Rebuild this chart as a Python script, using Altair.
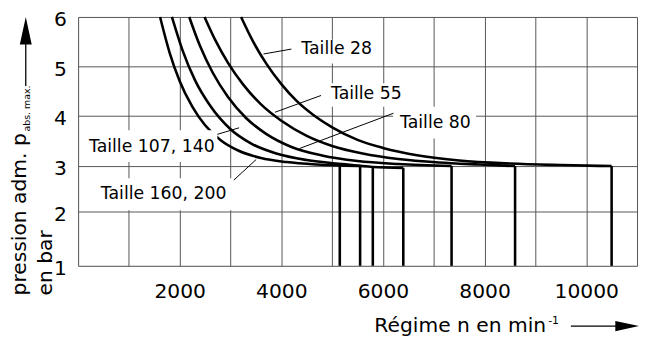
import altair as alt
import pandas as pd

FONT = "DejaVu Sans"

# ---- curves (speed in min-1, pressure in bar) ----
c28_n = [3207, 3450, 3700, 4000, 4300, 4650, 5000, 5500, 6000, 6700, 7500, 8500, 9500, 10500]
c28_p = [6.0, 5.49, 5.06, 4.64, 4.3, 4.0, 3.77, 3.52, 3.36, 3.21, 3.11, 3.05, 3.02, 3.0]

c55_n = [2488, 2700, 2950, 3250, 3600, 4000, 4500, 5000, 5600, 6300, 7100, 7900, 8600]
c55_p = [6.0, 5.53, 5.07, 4.63, 4.23, 3.9, 3.6, 3.4, 3.25, 3.14, 3.07, 3.03, 3.0]

c80_n = [2187, 2400, 2650, 2950, 3300, 3700, 4200, 4800, 5500, 6300, 7350]
c80_p = [6.0, 5.41, 4.87, 4.38, 3.96, 3.64, 3.38, 3.21, 3.1, 3.04, 3.0]

c107_n = [1846, 2050, 2300, 2600, 3000, 3400, 3900, 4500, 5200, 5800, 6400]
c107_p = [6.0, 5.34, 4.72, 4.2, 3.73, 3.45, 3.25, 3.12, 3.04, 2.98, 2.96]

c160_n = [1613, 1800, 2000, 2250, 2500, 2800, 3150, 3600, 4100, 4700, 5550]
c160_p = [6.0, 5.28, 4.7, 4.18, 3.81, 3.52, 3.31, 3.16, 3.08, 3.03, 3.0]

# ---- maximum speeds (vertical lines) ----
end_size = ["200", "160", "140", "107", "80", "55", "28"]
end_n = [5150, 5550, 5800, 6400, 7350, 8600, 10500]
end_p = [3.0, 3.0, 2.97, 2.96, 3.0, 3.0, 3.0]

# ---- annotations ----
label_text = ["Taille 28", "Taille 55", "Taille 80", "Taille 107, 140", "Taille 160, 200"]
label_n = [4393, 4976, 6336, 214, 447]
label_p = [5.34, 4.44, 3.85, 3.38, 2.37]
box_n1 = [4296, 4879, 6200, 117, 350]
box_n2 = [5928, 6492, 7833, 2740, 3090]
box_p1 = [5.54, 4.66, 4.18, 3.71, 2.73]
box_p2 = [5.06, 4.18, 3.55, 3.08, 2.02]
lead_n1 = [3648, 3874, 4360, 2740, 3065]
lead_p1 = [5.25, 4.07, 3.35, 3.63, 2.69]
lead_n2 = [4198, 4781, 6206, 3168, 3504]
lead_p2 = [5.35, 4.41, 4.05, 3.76, 3.13]

x_grid = list(range(0, 11001, 1000))
y_ticks = [1, 2, 3, 4, 5, 6]

rows = []
for name, ns, ps in [("28", c28_n, c28_p), ("55", c55_n, c55_p), ("80", c80_n, c80_p),
                     ("107", c107_n, c107_p), ("160", c160_n, c160_p)]:
    for n, p in zip(ns, ps):
        rows.append({"curve": name, "n": n, "p": p})
curves_df = pd.DataFrame(rows)
ends_df = pd.DataFrame({"size": end_size, "n": end_n, "p": end_p})
lab_df = pd.DataFrame({"text": label_text, "n": label_n, "p": label_p,
                       "bn1": box_n1, "bn2": box_n2, "bp1": box_p1, "bp2": box_p2,
                       "ln1": lead_n1, "lp1": lead_p1, "ln2": lead_n2, "lp2": lead_p2})
one = pd.DataFrame({"a": [0]})

W, H = 566, 252
xs = alt.Scale(domain=[0, 11000], nice=False, zero=False)
ys = alt.Scale(domain=y_ticks, range=[H, 196.7, 151, 100, 50, 0], nice=False, zero=False)

x_axis = alt.Axis(values=x_grid, format="d", title=None, ticks=False, tickSize=0, domain=False,
                  labelExpr="(datum.value % 2000 == 0 && datum.value > 0 && datum.value < 11000) ? datum.label : ''",
                  labelFont=FONT, labelFontSize=20.5, labelColor="black", labelPadding=16,
                  grid=True, gridColor="#555", gridWidth=1)
y_axis = alt.Axis(values=y_ticks, format="d", title=None, ticks=False, tickSize=0, domain=False,
                  labelFont=FONT, labelFontSize=20.5, labelColor="black", labelPadding=12,
                  labelOffset=3, grid=True, gridColor="#555", gridWidth=1)

base = alt.Chart(curves_df).mark_line(color="black", strokeWidth=2.6, interpolate="monotone").encode(
    x=alt.X("n:Q", scale=xs, axis=x_axis),
    y=alt.Y("p:Q", scale=ys, axis=y_axis),
    detail="curve:N",
)

verts = alt.Chart(ends_df).mark_rule(color="black", strokeWidth=2.6).encode(
    x=alt.X("n:Q", scale=xs), y=alt.Y("p:Q", scale=ys), y2=alt.datum(1))

boxes = alt.Chart(lab_df).mark_rect(fill="white").encode(
    x=alt.X("bn1:Q", scale=xs), x2="bn2:Q", y=alt.Y("bp1:Q", scale=ys), y2="bp2:Q")

texts = alt.Chart(lab_df).mark_text(align="left", baseline="middle", font=FONT, fontSize=17.5,
                                    color="black").encode(
    x=alt.X("n:Q", scale=xs), y=alt.Y("p:Q", scale=ys), text="text:N")

leaders = alt.Chart(lab_df).mark_rule(color="black", strokeWidth=1).encode(
    x=alt.X("ln1:Q", scale=xs), x2="ln2:Q", y=alt.Y("lp1:Q", scale=ys), y2="lp2:Q")

# axis titles with sub/superscripts and arrows
yt1 = alt.Chart(one).mark_text(angle=270, align="left", baseline="alphabetic", font=FONT,
                               fontSize=20.5, color="black").encode(
    x=alt.value(-53), y=alt.value(282), text=alt.value("pression adm. p"))
yt2 = alt.Chart(one).mark_text(angle=270, align="left", baseline="alphabetic", font=FONT,
                               fontSize=9.5, color="black").encode(
    x=alt.value(-49), y=alt.value(116), text=alt.value("abs. max."))
yt3 = alt.Chart(one).mark_text(angle=270, align="left", baseline="alphabetic", font=FONT,
                               fontSize=20.5, color="black").encode(
    x=alt.value(-26), y=alt.value(282), text=alt.value("en bar"))
yline = alt.Chart(one).mark_rule(color="black", strokeWidth=1.3).encode(
    x=alt.value(-53), y=alt.value(70), y2=alt.value(26))
yhead = alt.Chart(one).mark_point(shape="M-0.43,1 L0.43,1 L0,-1 Z", filled=True, color="black",
                                  opacity=1, size=784, strokeWidth=0).encode(
    x=alt.value(-53), y=alt.value(14))

xt1 = alt.Chart(one).mark_text(align="left", baseline="alphabetic", font=FONT, fontSize=20.5,
                               color="black").encode(
    x=alt.value(300), y=alt.value(319), text=alt.value("Régime n en min"))
xt2 = alt.Chart(one).mark_text(align="left", baseline="alphabetic", font=FONT, fontSize=11,
                               color="black").encode(
    x=alt.value(476), y=alt.value(311), text=alt.value("-1"))
xline = alt.Chart(one).mark_rule(color="black", strokeWidth=1.3).encode(
    x=alt.value(499), x2=alt.value(546), y=alt.value(313))
xhead = alt.Chart(one).mark_point(shape="M-1,-0.43 L1,0 L-1,0.43 Z", filled=True, color="black",
                                  opacity=1, size=576, strokeWidth=0).encode(
    x=alt.value(556), y=alt.value(313))

chart = alt.layer(base, verts, boxes, texts, leaders, yt1, yt2, yt3, yline, yhead,
                  xt1, xt2, xline, xhead).properties(
    width=W, height=H,
    padding={"left": 71, "top": 7, "right": 2, "bottom": 70},
    autosize=alt.AutoSizeParams(type="none"),
).configure_view(stroke="#555", strokeWidth=1).configure(background="white")

chart.save("out.html", embed_options={"renderer": "svg", "actions": False})
